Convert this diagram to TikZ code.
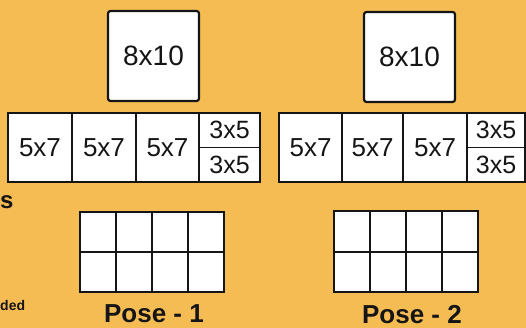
\documentclass[tikz,border=0pt]{standalone}
\usepackage{fontspec}
\setmainfont{Liberation Sans}
\usepackage{tikz}
\usetikzlibrary{positioning}
\definecolor{sheet}{HTML}{F6BC54}
\definecolor{ink}{HTML}{151515}
\tikzset{
  bigbox/.style={draw=ink, fill=white, line width=2.2pt, rounded corners=2.5pt,
                 minimum width=91pt, minimum height=90pt, inner sep=0pt, outer sep=0pt,
                 text=ink, font=\fontsize{28}{30}\selectfont},
  printbox/.style={draw=ink, fill=white, line width=1.8pt, inner sep=0pt, outer sep=0pt,
                   minimum height=69pt, text=ink, font=\fontsize{26}{28}\selectfont},
  halfbox/.style={printbox, minimum height=34.5pt, font=\fontsize{25}{27}\selectfont},
  gridcell/.style={draw=ink, fill=white, line width=2pt, inner sep=0pt, outer sep=0pt,
                   minimum width=36pt, minimum height=40pt},
  poselabel/.style={text=ink, font=\bfseries\fontsize{26}{28}\selectfont},
  cutlabel/.style={text=ink, anchor=west, inner sep=0pt},
}

\begin{document}
\begin{tikzpicture}[x=1pt, y=-1pt]
  \fill[sheet] (0,0) rectangle (526,328);
  \useasboundingbox (0,0) rectangle (526,328);

  % cut-off text at the left edge
  \node[cutlabel, font=\bfseries\fontsize{24}{26}\selectfont] (cuts) at (0,202) {s};
  \node[cutlabel, font=\bfseries\fontsize{14}{16}\selectfont] (cutded) at (0,305) {ded};

  % pose 1
  \node[bigbox, anchor=north west] (bigA) at (108,11) {8x10};
  \node[printbox, anchor=north west, minimum width=64pt] (rowA1) at (8,113) {5x7};
  \node[printbox, right=0pt of rowA1, minimum width=64pt] (rowA2) {5x7};
  \node[printbox, right=0pt of rowA2, minimum width=63pt] (rowA3) {5x7};
  \node[halfbox, anchor=north west, minimum width=61pt] (rowA4) at (rowA3.north east) {3x5};
  \node[halfbox, below=0pt of rowA4, minimum width=61pt] (rowA5) {3x5};
  \foreach \i in {0,...,3}
    \foreach \j in {0,1}
      \node[gridcell, anchor=north west] (gridA\i\j) at (80+36*\i,212+40*\j) {};
  \draw[ink, line width=2.6pt] (gridA00.north west) rectangle (gridA31.south east);
  \node[poselabel] (poseA) at (154,314) {Pose - 1};

  % pose 2
  \node[bigbox, anchor=north west] (bigB) at (364,12) {8x10};
  \node[printbox, anchor=north west, minimum width=63pt] (rowB1) at (279,113) {5x7};
  \node[printbox, right=0pt of rowB1, minimum width=61pt] (rowB2) {5x7};
  \node[printbox, right=0pt of rowB2, minimum width=64pt] (rowB3) {5x7};
  \node[halfbox, anchor=north west, minimum width=58pt] (rowB4) at (rowB3.north east) {3x5};
  \node[halfbox, below=0pt of rowB4, minimum width=58pt] (rowB5) {3x5};
  \foreach \i in {0,...,3}
    \foreach \j in {0,1}
      \node[gridcell, anchor=north west, minimum height=40.5pt] (gridB\i\j) at (334+36*\i,211+40.5*\j) {};
  \draw[ink, line width=2.6pt] (gridB00.north west) rectangle (gridB31.south east);
  \node[poselabel] (poseB) at (412,315) {Pose - 2};
\end{tikzpicture}
\end{document}
